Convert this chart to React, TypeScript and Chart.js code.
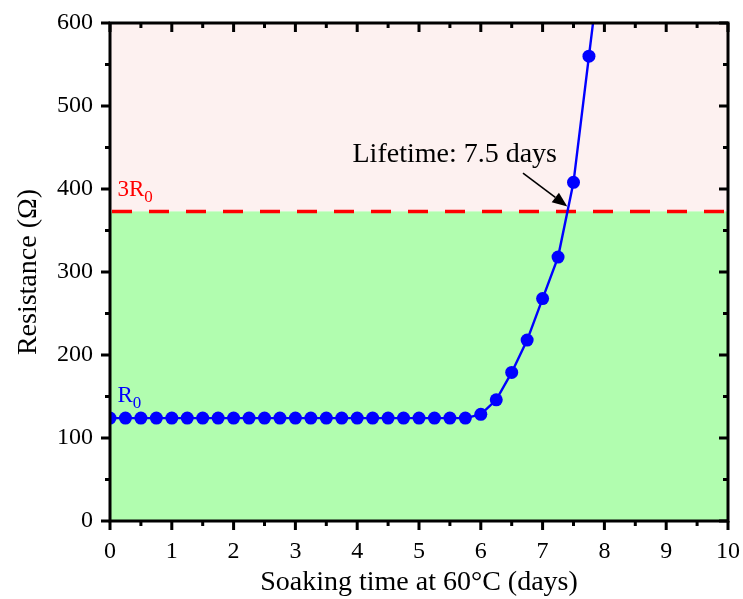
import React, { useEffect, useRef } from "react";
import { Chart, registerables } from "chart.js";

Chart.register(...registerables);

// ---- data ----
const days = [
  0, 0.25, 0.5, 0.75, 1, 1.25, 1.5, 1.75, 2, 2.25, 2.5, 2.75, 3, 3.25, 3.5, 3.75,
  4, 4.25, 4.5, 4.75, 5, 5.25, 5.5, 5.75, 6, 6.25, 6.5, 6.75, 7, 7.25, 7.5, 7.75, 8,
];
const resistance = [
  124, 124, 124, 124, 124, 124, 124, 124, 124, 124, 124, 124, 124, 124, 124, 124,
  124, 124, 124, 124, 124, 124, 124, 124, 128.5, 146, 179, 218, 268, 318, 408, 560, 712,
];
const xTickValues = [0, 1, 2, 3, 4, 5, 6, 7, 8, 9, 10];
const yTickValues = [0, 100, 200, 300, 400, 500, 600];
const threshold = 373; // 3R0
const lifetimeLabel = "Lifetime: 7.5 days";

const FONT = "'Liberation Serif', 'Times New Roman', serif";

const decor = {
  id: "decor",
  beforeDraw(chart: any) {
    const { ctx, chartArea: a, scales } = chart;
    const yt = scales.y.getPixelForValue(threshold);
    ctx.save();
    ctx.fillStyle = "#fdf1f0";
    ctx.fillRect(a.left, a.top, a.right - a.left, yt - a.top);
    ctx.fillStyle = "#b1fdaf";
    ctx.fillRect(a.left, yt, a.right - a.left, a.bottom - yt);
    ctx.restore();
  },
  beforeDatasetsDraw(chart: any) {
    const { ctx, chartArea: a, scales } = chart;
    const yt = scales.y.getPixelForValue(threshold);
    ctx.save();
    ctx.strokeStyle = "#ff0000";
    ctx.lineWidth = 3.5;
    ctx.setLineDash([20, 17]);
    ctx.beginPath();
    ctx.moveTo(a.left + 2, yt);
    ctx.lineTo(a.right, yt);
    ctx.stroke();
    ctx.restore();
  },
  afterDraw(chart: any) {
    const { ctx, chartArea: a, scales } = chart;
    const x = scales.x;
    const y = scales.y;
    ctx.save();
    ctx.strokeStyle = "#000";
    ctx.lineWidth = 3;
    ctx.lineCap = "butt";
    // ticks
    const major = 9;
    const minor = 5;
    for (let v = 0; v <= 10; v += 0.5) {
      const px = x.getPixelForValue(v);
      const len = Number.isInteger(v) ? major : minor;
      ctx.beginPath();
      ctx.moveTo(px, a.bottom);
      ctx.lineTo(px, a.bottom + len);
      ctx.moveTo(px, a.top);
      ctx.lineTo(px, a.top + len);
      ctx.stroke();
    }
    for (let v = 0; v <= 600; v += 50) {
      const py = y.getPixelForValue(v);
      const len = v % 100 === 0 ? major : minor;
      ctx.beginPath();
      ctx.moveTo(a.left, py);
      ctx.lineTo(a.left - len, py);
      ctx.moveTo(a.right, py);
      ctx.lineTo(a.right - len, py);
      ctx.stroke();
    }
    // frame
    ctx.strokeRect(a.left, a.top, a.right - a.left, a.bottom - a.top);

    // annotations
    ctx.textBaseline = "alphabetic";
    ctx.textAlign = "left";
    // 3R0
    ctx.fillStyle = "#ff0000";
    ctx.font = `23px ${FONT}`;
    let px = x.getPixelForValue(0.12);
    let py = y.getPixelForValue(391);
    ctx.fillText("3R", px, py);
    let w = ctx.measureText("3R").width;
    ctx.font = `17px ${FONT}`;
    ctx.fillText("0", px + w, py + 6);
    // R0
    ctx.fillStyle = "#0000ff";
    ctx.font = `23px ${FONT}`;
    px = x.getPixelForValue(0.12);
    py = y.getPixelForValue(143);
    ctx.fillText("R", px, py);
    w = ctx.measureText("R").width;
    ctx.font = `17px ${FONT}`;
    ctx.fillText("0", px + w, py + 6);
    // Lifetime label
    ctx.fillStyle = "#000";
    ctx.font = `28px ${FONT}`;
    ctx.textAlign = "right";
    ctx.fillText(lifetimeLabel, x.getPixelForValue(7.233), y.getPixelForValue(432.5));
    // arrow
    const x0 = x.getPixelForValue(6.683);
    const y0 = y.getPixelForValue(419);
    const x1 = x.getPixelForValue(7.4);
    const y1 = y.getPixelForValue(379);
    const ang = Math.atan2(y1 - y0, x1 - x0);
    const hl = 15;
    const hw = 6;
    const bx = x1 - hl * Math.cos(ang);
    const by = y1 - hl * Math.sin(ang);
    ctx.lineWidth = 1.6;
    ctx.beginPath();
    ctx.moveTo(x0, y0);
    ctx.lineTo(bx, by);
    ctx.stroke();
    ctx.fillStyle = "#000";
    ctx.beginPath();
    ctx.moveTo(x1, y1);
    ctx.lineTo(bx + hw * Math.sin(ang), by - hw * Math.cos(ang));
    ctx.lineTo(bx - hw * Math.sin(ang), by + hw * Math.cos(ang));
    ctx.closePath();
    ctx.fill();
    ctx.restore();
  },
};

export default function App() {
  const ref = useRef<HTMLCanvasElement | null>(null);
  useEffect(() => {
    if (!ref.current) return;
    const chart = new Chart(ref.current, {
      type: "scatter",
      data: {
        datasets: [
          {
            data: days.map((d, i) => ({ x: d, y: resistance[i] })),
            showLine: true,
            borderColor: "#0000ff",
            backgroundColor: "#0000ff",
            borderWidth: 2.4,
            pointRadius: 6.5,
            pointBorderWidth: 0,
            pointHoverRadius: 6.5,
          },
        ],
      },
      options: {
        responsive: false,
        animation: false,
        events: [],
        layout: { padding: { left: 0, top: 23, right: 15, bottom: 0 } },
        plugins: {
          legend: { display: false },
          tooltip: { enabled: false },
        },
        scales: {
          x: {
            type: "linear",
            min: 0,
            max: 10,
            afterFit: (s: any) => {
              s.height = 78;
              s.paddingLeft = 0;
              s.paddingRight = 0;
            },
            afterBuildTicks: (s: any) => {
              s.ticks = xTickValues.map((v) => ({ value: v }));
            },
            grid: { display: false, drawTicks: false },
            border: { display: false },
            ticks: {
              color: "#000",
              font: { family: FONT, size: 24 },
              padding: 16,
              maxRotation: 0,
            },
            title: {
              display: true,
              text: "Soaking time at 60°C (days)",
              color: "#000",
              font: { family: FONT, size: 28 },
              padding: { top: 0, bottom: 0 },
            },
          },
          y: {
            type: "linear",
            min: 0,
            max: 600,
            afterFit: (s: any) => {
              s.width = 110;
              s.paddingTop = 0;
              s.paddingBottom = 0;
            },
            afterBuildTicks: (s: any) => {
              s.ticks = yTickValues.map((v) => ({ value: v }));
            },
            grid: { display: false, drawTicks: false },
            border: { display: false },
            ticks: {
              color: "#000",
              font: { family: FONT, size: 24 },
              padding: 17,
            },
            title: {
              display: true,
              text: "Resistance (Ω)",
              color: "#000",
              font: { family: FONT, size: 28 },
              padding: { top: 12, bottom: 0 },
            },
          },
        },
      },
      plugins: [decor],
    });
    return () => chart.destroy();
  }, []);
  return (
    <div style={{ position: "fixed", left: 0, top: 0, width: 743, height: 599, background: "#fff" }}>
      <canvas ref={ref} width={743} height={599} style={{ display: "block" }} />
    </div>
  );
}
